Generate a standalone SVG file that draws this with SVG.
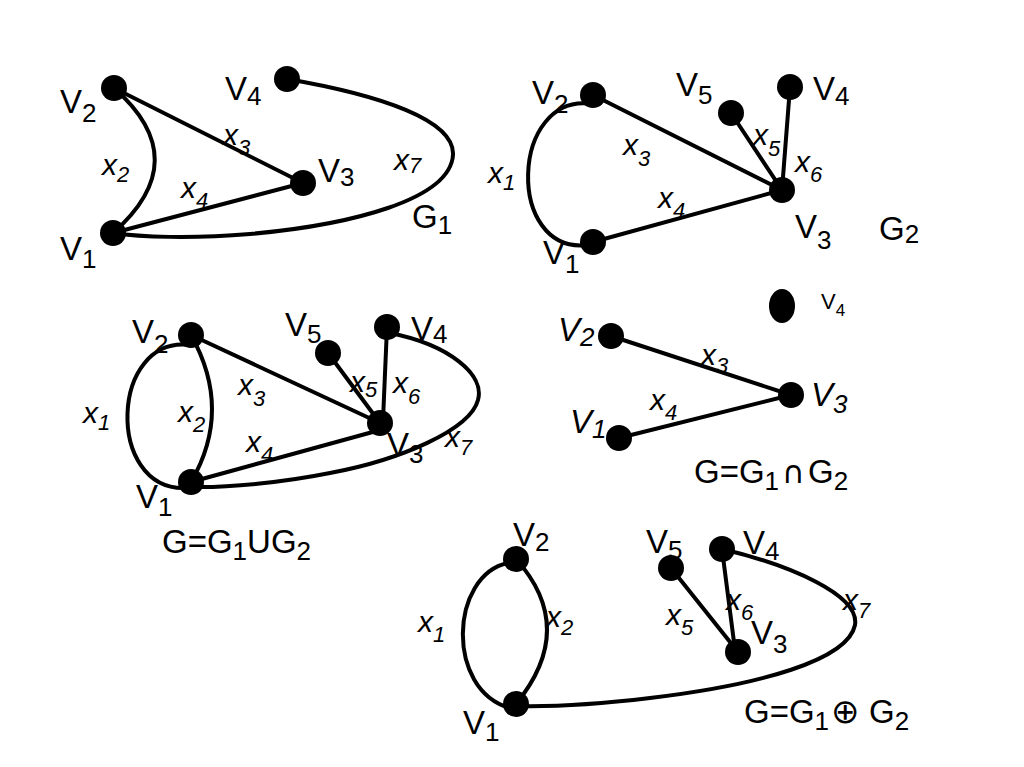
<svg xmlns="http://www.w3.org/2000/svg" width="1024" height="767" viewBox="0 0 1024 767">
<style>
.e{fill:none;stroke:#000;stroke-width:4;stroke-linecap:round}
.n{fill:#000}
text{font-family:"Liberation Sans",Arial,sans-serif;fill:#000}
.v{font-size:33px}
.vi{font-size:33px;font-style:italic}
.x{font-size:30px;font-style:italic}
.s{font-size:26px}
.xs{font-size:22px}
.t{font-size:33px}
.m{font-family:"DejaVu Sans",sans-serif}
</style>
<rect width="1024" height="767" fill="#fff"/>
<g id="connectors">
<path class="e" d="M114,88 Q196,160 113,233"/>
<path class="e" d="M114,88 L303,183"/>
<path class="e" d="M113,233 L303,183"/>
<path class="e" d="M287,79 C380,95 455,120 453,155 C450,200 350,225 250,234 C190,239 140,237 113,233"/>
<path class="e" d="M592,104 C510,92 505,255 588,245"/>
<path class="e" d="M593,95 L782,190"/>
<path class="e" d="M593,242 L782,190"/>
<path class="e" d="M731,113 L782,190"/>
<path class="e" d="M790,87 L782,190"/>
<path class="e" d="M190,345 C110,335 105,490 185,488"/>
<path class="e" d="M191,335 Q233,410 191,482"/>
<path class="e" d="M191,335 L380,423"/>
<path class="e" d="M191,482 L380,430"/>
<path class="e" d="M328,353 L380,423"/>
<path class="e" d="M387,327 L383,420"/>
<path class="e" d="M390,333 C450,345 485,375 478,400 C470,430 400,460 330,473 C280,483 230,487 200,487"/>
<path class="e" d="M611,336 L791,395"/>
<path class="e" d="M619,438 L791,395"/>
<path class="e" d="M508,563 C450,575 445,690 510,708"/>
<path class="e" d="M516,559 Q578,628 516,704"/>
<path class="e" d="M671,568 L738,652"/>
<path class="e" d="M722,549 L735,650"/>
<path class="e" d="M722,549 C790,565 860,595 855,625 C848,660 760,685 650,698 C600,704 560,707 516,706"/>
</g>
<g id="G1">
<circle class="n" cx="114" cy="88" r="13"/>
<circle class="n" cx="113" cy="233" r="13"/>
<circle class="n" cx="303" cy="183" r="13"/>
<circle class="n" cx="287" cy="79" r="13"/>
<text class="v" x="60" y="113">V<tspan class="s" dy="9">2</tspan></text>
<text class="v" x="225" y="100">V<tspan class="s" dy="5">4</tspan></text>
<text class="v" x="318" y="182">V<tspan class="s" dy="4">3</tspan></text>
<text class="v" x="60" y="260">V<tspan class="s" dy="8">1</tspan></text>
<text class="x" x="102" y="175">x<tspan class="xs" dy="7">2</tspan></text>
<text class="x" x="223" y="145">x<tspan class="xs" dy="10">3</tspan></text>
<text class="x" x="181" y="198">x<tspan class="xs" dy="10">4</tspan></text>
<text class="x" x="394" y="170">x<tspan class="xs" dy="3">7</tspan></text>
<text class="t" x="412" y="228">G<tspan class="s" dy="6">1</tspan></text>
</g>
<g id="G2">
<circle class="n" cx="593" cy="95" r="13"/>
<circle class="n" cx="593" cy="242" r="13"/>
<circle class="n" cx="782" cy="190" r="13"/>
<circle class="n" cx="731" cy="113" r="13"/>
<circle class="n" cx="790" cy="87" r="13"/>
<text class="v" x="532" y="104">V<tspan class="s" dy="9">2</tspan></text>
<text class="v" x="676" y="96">V<tspan class="s" dy="8">5</tspan></text>
<text class="v" x="813" y="100">V<tspan class="s" dy="5">4</tspan></text>
<text class="v" x="795" y="238">V<tspan class="s" dy="11">3</tspan></text>
<text class="v" x="543" y="264">V<tspan class="s" dy="9">1</tspan></text>
<text class="x" x="488" y="183">x<tspan class="xs" dy="7">1</tspan></text>
<text class="x" x="623" y="155">x<tspan class="xs" dy="11">3</tspan></text>
<text class="x" x="753" y="145">x<tspan class="xs" dy="11">5</tspan></text>
<text class="x" x="795" y="172">x<tspan class="xs" dy="10">6</tspan></text>
<text class="x" x="658" y="208">x<tspan class="xs" dy="10">4</tspan></text>
<text class="t" x="879" y="240">G<tspan class="s" dy="3">2</tspan></text>
</g>
<g id="G1uG2">
<circle class="n" cx="191" cy="335" r="13"/>
<circle class="n" cx="191" cy="482" r="13"/>
<circle class="n" cx="380" cy="423" r="13"/>
<circle class="n" cx="328" cy="353" r="13"/>
<circle class="n" cx="387" cy="327" r="13"/>
<text class="v" x="132" y="343">V<tspan class="s" dy="10">2</tspan></text>
<text class="v" x="285" y="336">V<tspan class="s" dy="7">5</tspan></text>
<text class="v" x="411" y="340">V<tspan class="s" dy="3">4</tspan></text>
<text class="v" x="387" y="456">V<tspan class="s" dy="7">3</tspan></text>
<text class="v" x="136" y="508">V<tspan class="s" dy="8">1</tspan></text>
<text class="x" x="83" y="423">x<tspan class="xs" dy="7">1</tspan></text>
<text class="x" x="178" y="422">x<tspan class="xs" dy="10">2</tspan></text>
<text class="x" x="238" y="395">x<tspan class="xs" dy="11">3</tspan></text>
<text class="x" x="350" y="392">x<tspan class="xs" dy="5">5</tspan></text>
<text class="x" x="393" y="393">x<tspan class="xs" dy="11">6</tspan></text>
<text class="x" x="246" y="452">x<tspan class="xs" dy="10">4</tspan></text>
<text class="x" x="445" y="447">x<tspan class="xs" dy="8">7</tspan></text>
<text class="t" x="162" y="553">G=G<tspan class="s" dy="7">1</tspan><tspan dy="-7">U</tspan>G<tspan class="s" dy="7">2</tspan></text>
</g>
<g id="G1nG2">
<circle class="n" cx="611" cy="336" r="13"/>
<circle class="n" cx="619" cy="438" r="13"/>
<circle class="n" cx="791" cy="395" r="13"/>
<ellipse class="n" cx="782" cy="306" rx="13" ry="17"/>
<text class="vi" x="558" y="341">V<tspan class="s" dy="5">2</tspan></text>
<text class="vi" x="811" y="406">V<tspan class="s" dy="7">3</tspan></text>
<text class="vi" x="570" y="433">V<tspan class="s" dy="5">1</tspan></text>
<text x="821" y="309" font-size="22">V<tspan font-size="17" dy="7">4</tspan></text>
<text class="x" x="701" y="365">x<tspan class="xs" dy="8">3</tspan></text>
<text class="x" x="650" y="410">x<tspan class="xs" dy="10">4</tspan></text>
<text class="t" x="694" y="483">G=G<tspan class="s" dy="7">1</tspan><tspan class="m" x="782" dy="-7" font-size="31">∩</tspan><tspan x="808">G</tspan><tspan class="s" dy="7">2</tspan></text>
</g>
<g id="G1xG2">
<circle class="n" cx="516" cy="559" r="13"/>
<circle class="n" cx="516" cy="704" r="13"/>
<circle class="n" cx="671" cy="568" r="13"/>
<circle class="n" cx="722" cy="549" r="13"/>
<circle class="n" cx="738" cy="652" r="13"/>
<text class="v" x="513" y="546">V<tspan class="s" dy="5">2</tspan></text>
<text class="v" x="646" y="553">V<tspan class="s" dy="6">5</tspan></text>
<text class="v" x="743" y="554">V<tspan class="s" dy="6">4</tspan></text>
<text class="v" x="751" y="644">V<tspan class="s" dy="9">3</tspan></text>
<text class="v" x="463" y="734">V<tspan class="s" dy="7">1</tspan></text>
<text class="x" x="418" y="632">x<tspan class="xs" dy="10">1</tspan></text>
<text class="x" x="546" y="627">x<tspan class="xs" dy="8">2</tspan></text>
<text class="x" x="666" y="625">x<tspan class="xs" dy="10">5</tspan></text>
<text class="x" x="726" y="610">x<tspan class="xs" dy="10">6</tspan></text>
<text class="x" x="843" y="610">x<tspan class="xs" dy="8">7</tspan></text>
<text class="t" x="744" y="723">G=G<tspan class="s" dy="7">1</tspan><tspan class="m" x="831" dy="-7" font-size="34">⊕</tspan><tspan x="869">G</tspan><tspan class="s" dy="7">2</tspan></text>
</g>
</svg>
